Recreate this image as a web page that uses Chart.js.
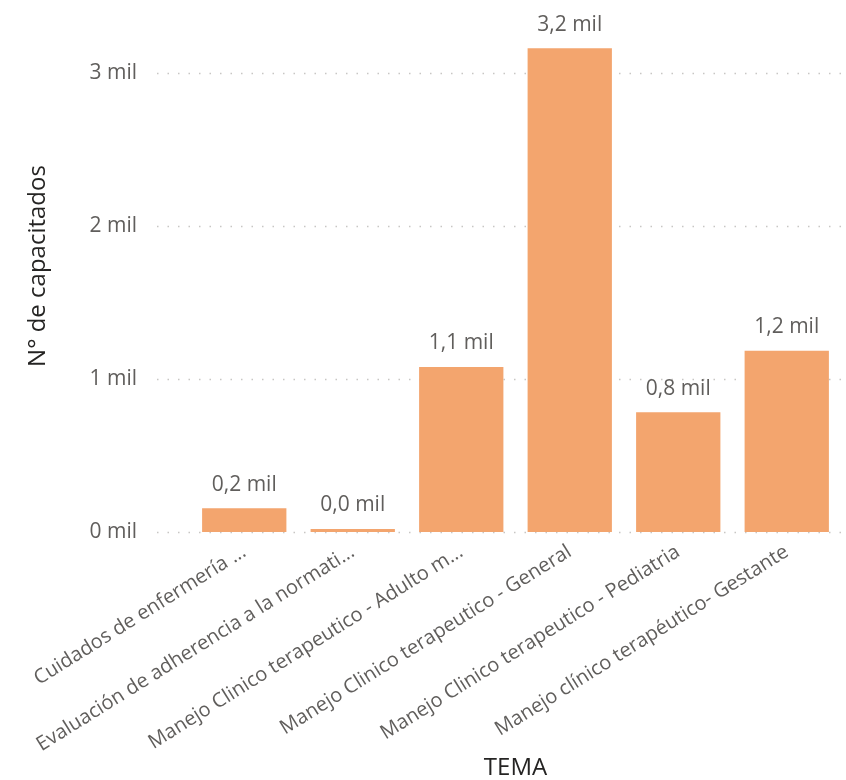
<!DOCTYPE html>
<html>
<head>
<meta charset="utf-8">
<script src="https://cdn.jsdelivr.net/npm/chart.js@4"></script>
<style>
    html, body { margin: 0; padding: 0; background: #fff; }
    #wrap { width: 846px; height: 780px; position: relative; }
</style>
</head>
<body>
<div id="wrap"><canvas id="chart"></canvas></div>
<script>
// Data
const temas = [
    "Cuidados de enfermería ...",
    "Evaluación de adherencia a la normati...",
    "Manejo Clinico terapeutico - Adulto m...",
    "Manejo Clinico terapeutico - General",
    "Manejo Clinico terapeutico - Pediatria",
    "Manejo clínico terapéutico- Gestante"
];
const capacitados = [155, 20, 1080, 3165, 783, 1186];
const yTicks = [0, 1000, 2000, 3000];

const barColor = "#F3A56E";
const grayText = "#605E5C";
const darkText = "#252423";
const fontFamily = "'Open Sans', 'Noto Sans', sans-serif";

function fmtMil(v) {
    return (Math.round(v / 100) / 10).toFixed(1).replace(".", ",") + " mil";
}

// dotted gridlines that run past the plot area like in Power BI
const dottedGrid = {
    id: "dottedGrid",
    beforeDatasetsDraw(chart) {
        const ctx = chart.ctx;
        const y = chart.scales.y;
        ctx.save();
        ctx.strokeStyle = "#C8C6C4";
        ctx.lineWidth = 1.5;
        ctx.setLineDash([1.5, 9]);
        yTicks.forEach(t => {
            const py = Math.round(y.getPixelForValue(t)) + 0.5;
            ctx.beginPath();
            ctx.moveTo(157, py);
            ctx.lineTo(846, py);
            ctx.stroke();
        });
        ctx.restore();
    }
};

// value labels above each bar
const barLabels = {
    id: "barLabels",
    afterDatasetsDraw(chart) {
        const ctx = chart.ctx;
        const meta = chart.getDatasetMeta(0);
        ctx.save();
        ctx.fillStyle = grayText;
        ctx.font = "21px " + fontFamily;
        ctx.textAlign = "center";
        ctx.textBaseline = "alphabetic";
        meta.data.forEach((bar, i) => {
            ctx.fillText(fmtMil(capacitados[i]), bar.x, bar.y - 17.5);
        });
        ctx.restore();
    }
};

const ctx = document.getElementById("chart").getContext("2d");
new Chart(ctx, {
    type: "bar",
    data: {
        labels: temas,
        datasets: [{
            data: capacitados,
            backgroundColor: barColor,
            barPercentage: 0.777,
            categoryPercentage: 1.0
        }]
    },
    options: {
        responsive: true,
        maintainAspectRatio: false,
        animation: false,
        layout: { padding: { left: 0, right: 5, top: 0, bottom: 0 } },
        plugins: {
            legend: { display: false },
            tooltip: { enabled: false }
        },
        scales: {
            x: {
                grid: { display: false, drawTicks: false },
                border: { display: false },
                ticks: {
                    autoSkip: false,
                    minRotation: 32,
                    maxRotation: 32,
                    padding: 8,
                    color: grayText,
                    font: { family: fontFamily, size: 20 }
                },
                title: {
                    display: true,
                    text: "TEMA",
                    color: darkText,
                    font: { family: fontFamily, size: 24, lineHeight: 1 },
                    padding: { top: 0, bottom: 0 }
                },
                afterFit(scale) { scale.height = 248; }
            },
            y: {
                min: 0,
                max: 3480,
                grid: { display: false, drawTicks: false },
                border: { display: false },
                afterBuildTicks(scale) {
                    scale.ticks = yTicks.map(v => ({ value: v }));
                },
                ticks: {
                    padding: 53,
                    color: grayText,
                    font: { family: fontFamily, size: 21 },
                    callback: v => (v / 1000) + " mil"
                },
                title: {
                    display: true,
                    text: "N° de capacitados",
                    color: darkText,
                    font: { family: fontFamily, size: 24, lineHeight: 1.2 },
                    padding: { top: 24, bottom: 0 }
                },
                afterFit(scale) {
                    scale.width = 190;
                    scale.paddingTop = 0;
                    scale.paddingBottom = 0;
                }
            }
        }
    },
    plugins: [dottedGrid, barLabels]
});
</script>
</body>
</html>
